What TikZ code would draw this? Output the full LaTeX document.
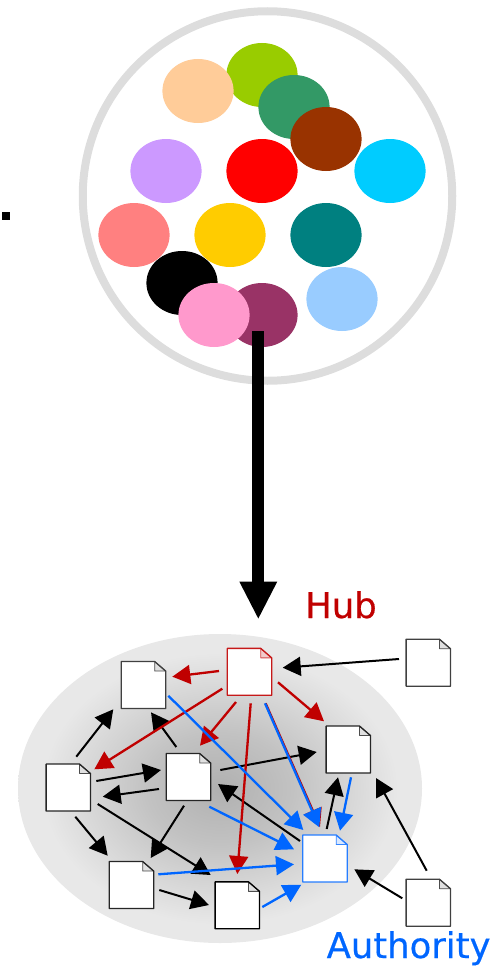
\documentclass[tikz,border=0pt]{standalone}
\usepackage{fontspec}
\setmainfont{DejaVu Sans}
\newfontfamily\labelfont{DejaVu Sans}[FakeBold=0.5]
\usetikzlibrary{arrows.meta,shapes.geometric}
\definecolor{hubred}{HTML}{C00000}
\definecolor{authblue}{HTML}{0066FF}
\definecolor{ringgray}{HTML}{DDDDDD}
\definecolor{blobcentre}{HTML}{B0B0B0}
\definecolor{blobmid}{HTML}{C2C2C2}
\definecolor{bloboutr}{HTML}{E8E8E8}
\definecolor{cA}{HTML}{99CC00}
\definecolor{cB}{HTML}{FFCC99}
\definecolor{cC}{HTML}{339966}
\definecolor{cD}{HTML}{993300}
\definecolor{cE}{HTML}{CC99FF}
\definecolor{cF}{HTML}{FF0000}
\definecolor{cG}{HTML}{00CCFF}
\definecolor{cH}{HTML}{FF8080}
\definecolor{cI}{HTML}{FFCC00}
\definecolor{cJ}{HTML}{008080}
\definecolor{cK}{HTML}{99CCFF}
\definecolor{cL}{HTML}{993366}
\definecolor{cM}{HTML}{FF99CC}
\pgfdeclareradialshading{webglow}{\pgfpoint{0bp}{0bp}}{%
  color(0bp)=(blobcentre);
  color(9bp)=(blobmid);
  color(22bp)=(bloboutr);
  color(50bp)=(bloboutr)}
\tikzset{
  blob/.style={shape=ellipse,minimum width=71.2pt,minimum height=64pt,inner sep=0pt,fill=#1},
  docbox/.style={shape=rectangle,minimum width=44pt,minimum height=46.5pt,inner sep=0pt},
  linkblack/.style={draw=black,line width=2pt,-{Triangle[length=18pt,width=19pt]}},
  linkred/.style={draw=hubred,line width=2.3pt,-{Triangle[length=18pt,width=19pt]}},
  linkblue/.style={draw=authblue,line width=2.3pt,-{Triangle[length=18pt,width=19pt]}},
  bigtext/.style={font=\labelfont\fontsize{35.4}{35.4}\selectfont,anchor=base west,inner sep=0pt}
}
\newcommand{\docnode}[6]{%
  \node[docbox] (#1) at (#2,#3) {};
  \fill[white] (#1.north west) -- ([xshift=-11pt]#1.north east) -- ([yshift=-9.5pt]#1.north east) -- (#1.south east) -- (#1.south west) -- cycle;
  \filldraw[draw=#4,fill=#5,line width=.8pt,line join=round] ([xshift=-11pt]#1.north east) -- ([xshift=-11pt,yshift=-9.5pt]#1.north east) -- ([yshift=-9.5pt]#1.north east) -- cycle;
  \draw[draw=#6,line width=1.3pt,line join=round] (#1.north west) -- ([xshift=-11pt]#1.north east) -- ([yshift=-9.5pt]#1.north east) -- (#1.south east) -- (#1.south west) -- cycle;
}
\newcommand{\linkit}[5]{%
  \draw[#1] ([shift={(#3)}]#2.center) -- ([shift={(#5)}]#4.center);%
}
\begin{document}
\begin{tikzpicture}[x=1pt,y=-1pt]
\useasboundingbox (0,0) rectangle (491,966);
% bowl
\node[shape=circle,minimum size=369.5pt,inner sep=0pt,draw=ringgray,line width=8pt] (bowl) at (267.5,196) {};
\node[blob=cA] (b1) at (262,75) {};
\node[blob=cB] (b2) at (198,91) {};
\node[blob=cC] (b3) at (294,107) {};
\node[blob=cE] (b5) at (166,171) {};
\node[blob=cF] (b6) at (262,171) {};
\node[blob=cG] (b7) at (390,171) {};
\node[blob=cD] (b4) at (326,139) {};
\node[blob=cH] (b8) at (134,235) {};
\node[blob=cI] (b9) at (230,235) {};
\node[blob=cJ] (b10) at (326,235) {};
\node[blob=black] (b11) at (182,283) {};
\node[blob=cK] (b12) at (342,299) {};
\node[blob=cL] (b13) at (262,315) {};
\node[blob=cM] (b14) at (214,315) {};
\node[shape=rectangle,fill=black,minimum size=8pt,inner sep=0pt] (dot) at (6,216) {};
% big arrow
\coordinate (bigstart) at (258.3,331);
\coordinate (bigend) at (258.3,619.5);
\draw[line width=12pt,-{Triangle[length=38pt,width=35pt]}] (bigstart) -- (bigend);
% web
\node[shape=ellipse,minimum width=404pt,minimum height=309pt,inner sep=0pt,shading=webglow] (web) at (220,788.5) {};
\docnode{A}{143.5}{685}{black!70}{black!12}{black!75}
\docnode{B}{68.3}{787.5}{black!70}{black!12}{black!85}
\docnode{C}{188.5}{777}{black!70}{black!12}{black!85}
\docnode{D}{131.5}{885}{black!70}{black!12}{black!85}
\docnode{E}{237.3}{905.3}{black!70}{black!12}{black}
\docnode{Hb}{249.5}{671.8}{hubred!70}{hubred!20}{hubred!90}
\docnode{TR}{428.3}{662.7}{black!70}{black!12}{black!75}
\docnode{F}{348.3}{749.5}{black!70}{black!12}{black!85}
\docnode{Au}{325}{858.5}{authblue!80}{authblue!15}{authblue!85}
\docnode{BR}{428.3}{902.7}{black!70}{black!12}{black!75}
% black links
\linkit{linkblack}{TR}{-29.3,-3.7}{Hb}{33.2,-4.1}
\linkit{linkblack}{BR}{-1.6,-32}{F}{27.7,28.5}
\linkit{linkblack}{BR}{-26,-4.4}{Au}{29.3,10.8}
\linkit{linkblack}{Au}{1.7,-29.5}{F}{-10.3,27.8}
\linkit{linkblack}{Au}{-25,-17.5}{C}{29.5,7}
\linkit{linkblack}{C}{31.8,-7}{F}{-31.6,2.5}
\linkit{linkblack}{B}{8,-30.8}{A}{-30.2,24.3}
\linkit{linkblack}{C}{-12.2,-30}{A}{7.5,27.3}
\linkit{linkblack}{B}{28,-6.5}{C}{-27.5,-7}
\linkit{linkblack}{C}{-29.5,12}{B}{34.4,9.2}
\linkit{linkblack}{B}{7,29.2}{D}{-23.8,-29.3}
\linkit{linkblack}{C}{-4.5,28.7}{D}{19.2,-27}
\linkit{linkblack}{B}{29.4,16.5}{E}{-26.6,-30.3}
\linkit{linkblack}{D}{27.8,5}{E}{-28.3,-0.3}
% red links
\linkit{linkred}{Hb}{-30.5,-0.8}{A}{28.8,-8.3}
\linkit{linkred}{Hb}{-27.2,16.9}{B}{26,-18.2}
\linkit{linkred}{Hb}{-13.5,30.2}{C}{11.5,-31.3}
\linkit{linkred}{Hb}{1.2,31.5}{E}{0,-31.3}
\linkit{linkred}{Hb}{28.5,10.5}{F}{-24.3,-28.2}
\linkit{linkred}{Hb}{16.1,31.5}{Au}{-5,-31.5}
% blue links
\linkit{linkblue}{Hb}{15.5,31.5}{Au}{-5.7,-31.2}
\linkit{linkblue}{A}{24.8,10.7}{Au}{-21.7,-28.5}
\linkit{linkblue}{C}{20.8,29.7}{Au}{-31,-9.2}
\linkit{linkblue}{D}{26.8,-10.7}{Au}{-31,5.8}
\linkit{linkblue}{E}{25,1.7}{Au}{-23.7,26.2}
\linkit{linkblue}{F}{2.7,27.8}{Au}{15,-27.8}
% labels
\node[bigtext,text=hubred] (hublabel) at (305,618) {Hub};
\node[bigtext,text=authblue] (authlabel) at (326.5,958) {Authority};
\end{tikzpicture}
\end{document}
